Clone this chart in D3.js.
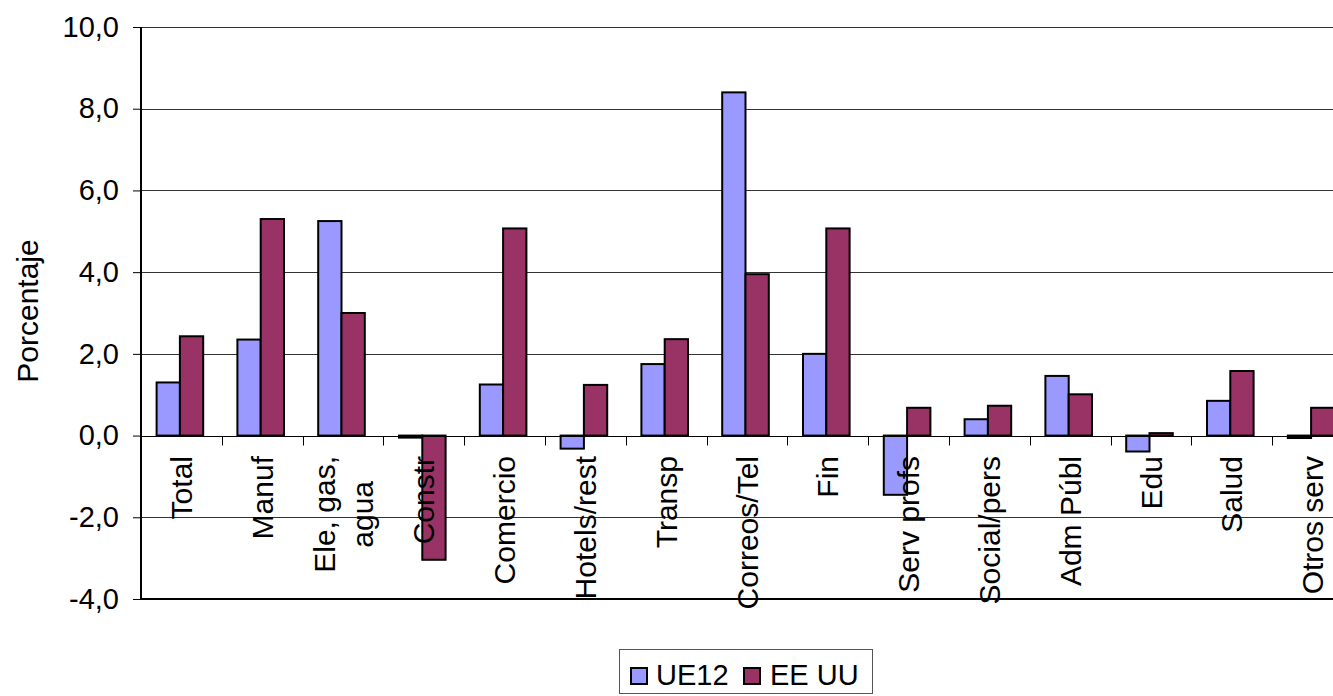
<!DOCTYPE html>
<html>
<head>
<meta charset="utf-8">
<script src="https://cdn.jsdelivr.net/npm/d3@7/dist/d3.min.js"></script>
<style>
  html, body { margin: 0; padding: 0; background: #fff; }
  svg { display: block; font-family: "Liberation Sans", Arial, sans-serif; }
</style>
</head>
<body>
<svg id="chart" width="1333" height="696"></svg>
<script>
// Sector labels (line breaks marked with \n)
const categories = [
  "Total", "Manuf", "Ele, gas,\nagua", "Constr", "Comercio", "Hotels/rest",
  "Transp", "Correos/Tel", "Fin", "Serv profs", "Social/pers", "Adm Públ",
  "Edu", "Salud", "Otros serv"
];
const seriesNames = ["UE12", "EE UU"];
const ue12 = [1.3, 2.35, 5.25, -0.05, 1.25, -0.32, 1.75, 8.4, 2.0, -1.45, 0.4, 1.46, -0.39, 0.85, -0.06];
const eeuu = [2.43, 5.3, 3.0, -3.04, 5.07, 1.24, 2.36, 3.95, 5.07, 0.68, 0.73, 1.01, 0.06, 1.58, 0.68];
const yTicks = [-4, -2, 0, 2, 4, 6, 8, 10];
const colors = ["#9999FF", "#993366"];

(function () {
  const svg = d3.select("#chart");
  const plotLeft = 141, plotTop = 27, plotBottom = 599, step = 80.8, plotRight = 1333;

  const y = d3.scaleLinear().domain([-4, 10]).range([plotBottom, plotTop]);
  const x = d3.scaleBand().domain(categories)
    .range([plotLeft, plotLeft + categories.length * step]).padding(0);
  const x1 = d3.scaleBand().domain(seriesNames).range([15.6, 15.6 + 46.6]).padding(0);

  const locale = d3.formatLocale({ decimal: ",", thousands: ".", grouping: [3], currency: ["", ""], minus: "-" });
  const fmt = locale.format(".1f");

  // horizontal gridlines
  svg.append("g").selectAll("line")
    .data(yTicks.filter(t => t !== -4 && t !== 0))
    .join("line")
    .attr("x1", plotLeft).attr("x2", plotRight)
    .attr("y1", d => Math.round(y(d)) + 0.5).attr("y2", d => Math.round(y(d)) + 0.5)
    .attr("stroke", "#333").attr("stroke-width", 1);

  // bars
  const rows = categories.map((c, i) => ({ c, vals: [ue12[i], eeuu[i]] }));
  const groups = svg.append("g").selectAll("g")
    .data(rows).join("g")
    .attr("transform", d => `translate(${x(d.c)},0)`);
  groups.selectAll("rect")
    .data(d => d.vals.map((v, k) => ({ v, s: seriesNames[k], k })))
    .join("rect")
    .attr("x", d => x1(d.s))
    .attr("width", x1.bandwidth())
    .attr("y", d => Math.min(y(d.v), y(0)))
    .attr("height", d => Math.abs(y(d.v) - y(0)))
    .attr("fill", d => colors[d.k])
    .attr("stroke", "#000").attr("stroke-width", 2);

  // zero line with category ticks
  const y0 = Math.round(y(0)) + 0.5;
  svg.append("line").attr("x1", plotLeft).attr("x2", plotRight)
    .attr("y1", y0).attr("y2", y0).attr("stroke", "#000").attr("stroke-width", 1);
  svg.append("g").selectAll("line")
    .data(categories.slice(1))
    .join("line")
    .attr("x1", d => Math.round(x(d)) + 0.5).attr("x2", d => Math.round(x(d)) + 0.5)
    .attr("y1", y0).attr("y2", y0 + 9)
    .attr("stroke", "#000").attr("stroke-width", 1);

  // y axis
  const yAxis = d3.axisLeft(y).tickValues(yTicks).tickFormat(fmt).tickSize(8).tickPadding(14);
  const ga = svg.append("g").attr("transform", `translate(${plotLeft},0)`).call(yAxis);
  ga.select(".domain").remove();
  ga.selectAll(".tick line").attr("stroke", "#000");
  ga.selectAll(".tick text").attr("font-size", 29).attr("fill", "#000")
    .attr("font-family", "'Liberation Sans', Arial, sans-serif");

  // plot frame: left and bottom
  svg.append("line").attr("x1", plotLeft).attr("x2", plotLeft).attr("y1", plotTop).attr("y2", plotBottom + 1)
    .attr("stroke", "#000").attr("stroke-width", 2);
  svg.append("line").attr("x1", plotLeft).attr("x2", plotRight).attr("y1", plotBottom).attr("y2", plotBottom)
    .attr("stroke", "#000").attr("stroke-width", 2);

  // rotated category labels
  const lineGap = 38;
  const labels = svg.append("g").selectAll("text")
    .data(categories).join("text")
    .attr("transform", d => `translate(${x(d) + x.bandwidth() / 2},456) rotate(-90)`)
    .attr("font-size", 30).attr("fill", "#000")
    .attr("text-anchor", "middle");
  labels.each(function (d) {
    const t = d3.select(this);
    const lines = d.split("\n");
    const n = lines.length;
    const spans = lines.map((ln, i) => t.append("tspan")
      .attr("x", 0)
      .attr("y", 10.5 + (i - (n - 1) / 2) * lineGap)
      .text(ln));
    const w = d3.max(spans, s => s.node().getComputedTextLength());
    spans.forEach(s => s.attr("x", -w / 2));
  });

  // y axis title
  svg.append("text")
    .attr("transform", "translate(38,311) rotate(-90)")
    .attr("text-anchor", "middle").attr("font-size", 30).attr("fill", "#000")
    .text("Porcentaje");

  // legend
  const lg = svg.append("g");
  lg.append("rect").attr("x", 619.5).attr("y", 649.5).attr("width", 253).attr("height", 44)
    .attr("fill", "#fff").attr("stroke", "#555").attr("stroke-width", 1);
  const legendItems = [
    { name: seriesNames[0], color: colors[0], sx: 631, tx: 656 },
    { name: seriesNames[1], color: colors[1], sx: 744, tx: 770 }
  ];
  legendItems.forEach(it => {
    lg.append("rect").attr("x", it.sx).attr("y", 668).attr("width", 16).attr("height", 16)
      .attr("fill", it.color).attr("stroke", "#000").attr("stroke-width", 2);
    lg.append("text").attr("x", it.tx).attr("y", 685).attr("font-size", 29).attr("fill", "#000")
      .text(it.name);
  });
})();
</script>
</body>
</html>
